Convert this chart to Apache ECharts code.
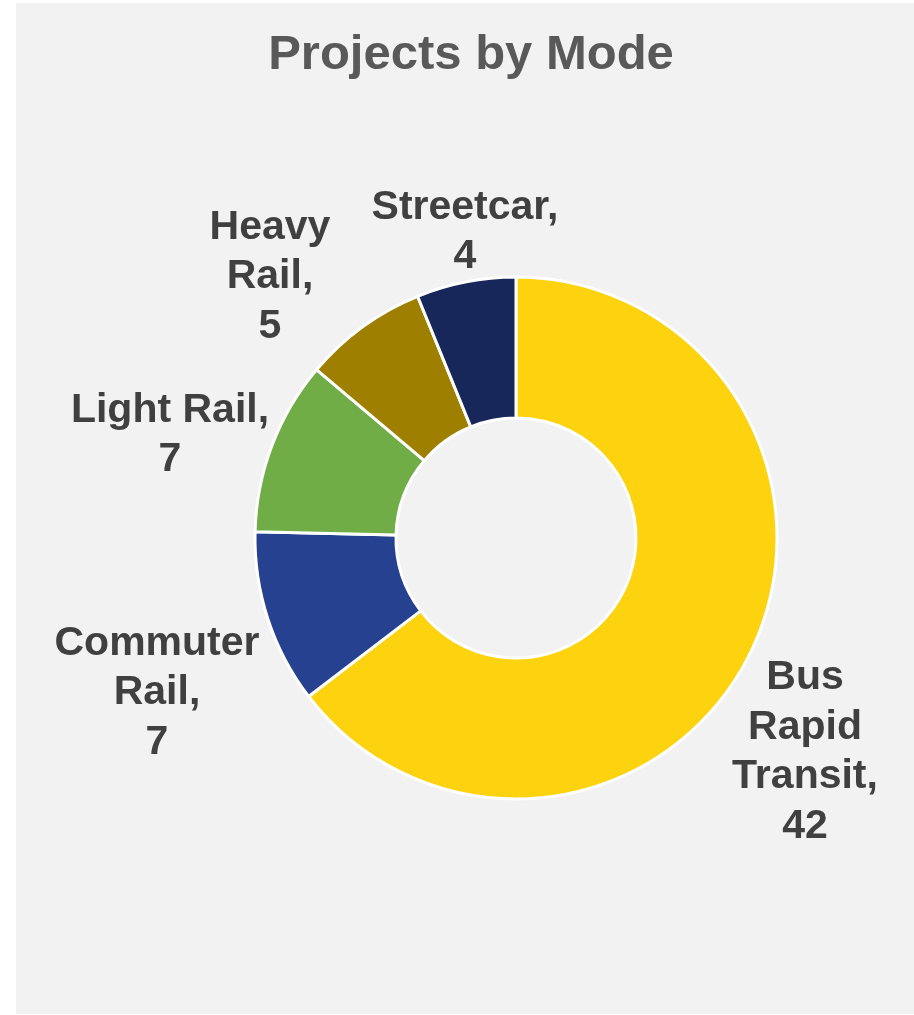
<!DOCTYPE html>
<html>
<head>
<meta charset="utf-8">
<script src="https://cdn.jsdelivr.net/npm/echarts@6/dist/echarts.min.js"></script>
<style>
  html, body { margin: 0; padding: 0; background: #ffffff; }
  #chart { width: 914px; height: 1015px; }
</style>
</head>
<body>
<div id="chart"></div>
<script>
// ---- data ----
const categories = ['Bus Rapid Transit', 'Commuter Rail', 'Light Rail', 'Heavy Rail', 'Streetcar'];
const values = [42, 7, 7, 5, 4];
const labelNames = ['Bus\nRapid\nTransit,', 'Commuter\nRail,', 'Light Rail,', 'Heavy\nRail,', 'Streetcar,'];

// ---- styling / layout ----
const colors = ['#FDD20F', '#25418F', '#70AD47', '#9E7F00', '#172759'];
const labelAnchors = [[805, 752], [157, 693], [170, 435], [270, 277], [465, 232]];

const chart = echarts.init(document.getElementById('chart'), null, { renderer: 'canvas' });

chart.setOption({
  animation: false,
  backgroundColor: '#ffffff',
  graphic: [
    { type: 'rect', z: -10, shape: { x: 16, y: 3, width: 898, height: 1011 }, style: { fill: '#F2F2F2' } },
    {
      type: 'text', x: 471, y: 55,
      style: {
        text: 'Projects by Mode', fill: '#595959',
        font: 'bold 49px "Liberation Sans", Arial, sans-serif',
        align: 'center', verticalAlign: 'middle'
      }
    }
  ],
  series: [{
    type: 'pie',
    center: [516, 538],
    radius: [120, 261],
    startAngle: 90,
    clockwise: true,
    avoidLabelOverlap: false,
    itemStyle: { borderColor: '#ffffff', borderWidth: 3 },
    label: {
      show: true,
      position: 'outside',
      color: '#404040',
      fontFamily: '"Liberation Sans", Arial, sans-serif',
      fontWeight: 'bold',
      fontSize: 41,
      lineHeight: 49.5,
      align: 'center',
      formatter: p => labelNames[p.dataIndex] + '\n' + p.value
    },
    labelLine: { show: false },
    labelLayout: p => ({
      x: labelAnchors[p.dataIndex][0],
      y: labelAnchors[p.dataIndex][1],
      align: 'center',
      verticalAlign: 'middle'
    }),
    data: categories.map((c, i) => ({ name: c, value: values[i], itemStyle: { color: colors[i] } }))
  }]
});
</script>
</body>
</html>
